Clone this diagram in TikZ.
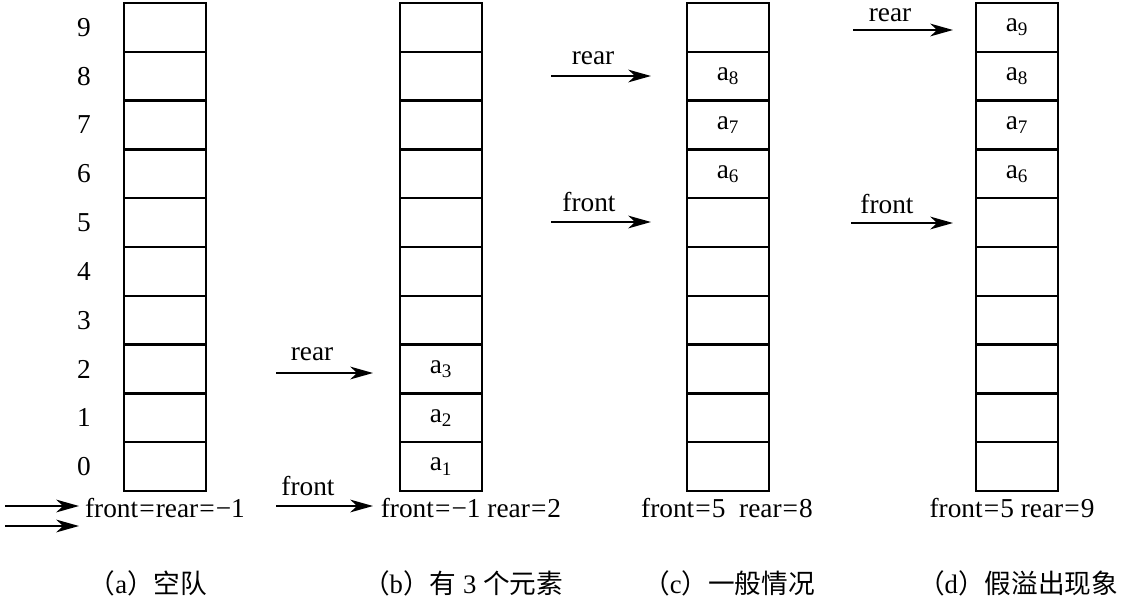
\documentclass[tikz,border=0pt]{standalone}
\usepackage{fontspec}
\setmainfont{Liberation Serif}
\newfontfamily\cjk{Noto Sans CJK SC}
\usetikzlibrary{arrows.meta}
\newcommand{\eqs}{\kern0.8pt=\kern0.8pt}
\begin{document}
\begin{tikzpicture}[x=0.75pt,y=-0.75pt,
  cell/.style={draw,line width=1.7pt,minimum width=61.5pt,minimum height=36.6pt,inner sep=0pt,outer sep=0pt},
  txt/.style={font=\fontsize{20.5}{22}\selectfont,inner sep=0pt},
  captxt/.style={font=\fontsize{20}{22}\selectfont,inner sep=0pt},
  arr/.style={line width=1.7pt,-{Stealth[length=17pt,width=9.5pt,inset=5pt]}}]
\useasboundingbox (0,0) rectangle (1121,600);
% cells
\foreach \col/\x in {a/124,b/400,c/687,d/976}{
  \foreach \i in {0,...,9}{
    \node[cell] (\col\i) at (\x+41,{3+(9.5-\i)*48.8}) {};
  }
}
% row numbers
\foreach \i in {0,...,9}{
  \node[txt] (n\i) at (84,{3+(9.5-\i)*48.8}) {\i};
}
% contents
\node[txt] (vb0) at (b0.center) {a\textsubscript{1}};
\node[txt] (vb1) at (b1.center) {a\textsubscript{2}};
\node[txt] (vb2) at (b2.center) {a\textsubscript{3}};
\node[txt] (vc6) at (c6.center) {a\textsubscript{6}};
\node[txt] (vc7) at (c7.center) {a\textsubscript{7}};
\node[txt] (vc8) at (c8.center) {a\textsubscript{8}};
\node[txt] (vd6) at (d6.center) {a\textsubscript{6}};
\node[txt] (vd7) at (d7.center) {a\textsubscript{7}};
\node[txt] (vd8) at (d8.center) {a\textsubscript{8}};
\node[txt] (vd9) at (d9.center) {a\textsubscript{9}};
% bottom labels
\node[txt] (la) at (165,508) {front\eqs rear\eqs −1};
\node[txt] (lb) at (471,508) {front\eqs −1 rear\eqs 2};
\node[txt] (lc) at (727,508) {front\eqs 5\ \ rear\eqs 8};
\node[txt] (ld) at (1012,508) {front\eqs 5 rear\eqs 9};
% arrows (a)
\coordinate (as1) at (5,506);
\coordinate (ae1) at (79,506);
\coordinate (as2) at (5,526);
\coordinate (ae2) at (79,526);
\draw[arr] (as1) -- (ae1);
\draw[arr] (as2) -- (ae2);
% arrows (b)
\coordinate (bs1) at (276,373);
\coordinate (be1) at (373,373);
\coordinate (bs2) at (276,506);
\coordinate (be2) at (373,506);
\draw[arr] (bs1) -- (be1);
\draw[arr] (bs2) -- (be2);
\node[txt] (brear) at (312,354) {rear};
\node[txt] (bfront) at (308,486) {front};
% arrows (c)
\coordinate (cs1) at (551,76);
\coordinate (ce1) at (651,76);
\coordinate (cs2) at (551,222);
\coordinate (ce2) at (651,222);
\draw[arr] (cs1) -- (ce1);
\draw[arr] (cs2) -- (ce2);
\node[txt] (crear) at (593,58) {rear};
\node[txt] (cfront) at (589,202) {front};
% arrows (d)
\coordinate (ds1) at (853,30);
\coordinate (de1) at (953,30);
\coordinate (ds2) at (851,223);
\coordinate (de2) at (953,223);
\draw[arr] (ds1) -- (de1);
\draw[arr] (ds2) -- (de2);
\node[txt] (drear) at (890,15) {rear};
\node[txt] (dfront) at (887,204) {front};
% captions
\node[captxt] (capa) at (148,583) {{\cjk （}a{\cjk ）空队}};
\node[captxt] (capb) at (463,583) {{\cjk （}b{\cjk ）有} 3 {\cjk 个元素}};
\node[captxt] (capc) at (729,583) {{\cjk （}c{\cjk ）一般情况}};
\node[captxt] (capd) at (1018,583) {{\cjk （}d{\cjk ）假溢出现象}};
\end{tikzpicture}
\end{document}
